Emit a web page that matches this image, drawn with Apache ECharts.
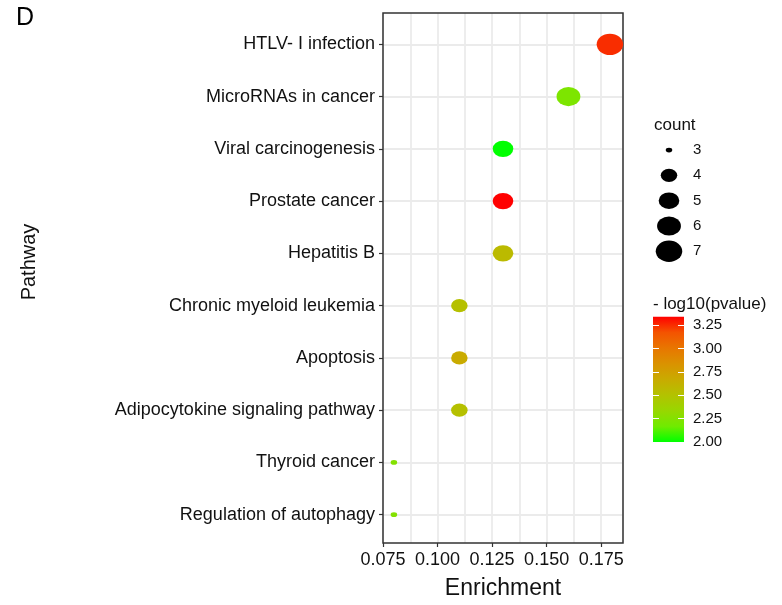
<!DOCTYPE html>
<html>
<head>
<meta charset="utf-8">
<script src="https://cdn.jsdelivr.net/npm/echarts@6/dist/echarts.min.js"></script>
<style>
  html, body { margin: 0; padding: 0; background: #fff; }
  #chart { width: 782px; height: 605px; }
</style>
</head>
<body>
<div id="chart"></div>
<script>
// KEGG pathway enrichment (panel D)
const pathways = [
  'HTLV- I infection',
  'MicroRNAs in cancer',
  'Viral carcinogenesis',
  'Prostate cancer',
  'Hepatitis B',
  'Chronic myeloid leukemia',
  'Apoptosis',
  'Adipocytokine signaling pathway',
  'Thyroid cancer',
  'Regulation of autophagy'
];
const enrichment = [0.179, 0.160, 0.130, 0.130, 0.130, 0.110, 0.110, 0.110, 0.080, 0.080];
const geneCount  = [7, 6, 5, 5, 5, 4, 4, 4, 3, 3];
const negLog10P  = [3.25, 2.22, 2.00, 3.34, 2.56, 2.52, 2.67, 2.52, 2.25, 2.25];

const xTickValues = [0.075, 0.100, 0.125, 0.150, 0.175];
const countBreaks = [3, 4, 5, 6, 7];
const pBreaks     = [2.00, 2.25, 2.50, 2.75, 3.00, 3.25];

// Scale limits
const X_MIN = 0.075, X_MAX = 0.185;
const P_MIN = 2.00, P_MAX = 3.34;
const COUNT_MIN = 3, COUNT_MAX = 7;

// green -> red gradient, evenly spaced stops (perceptual blend)
const palette = ['#00FF00', '#70EB00', '#98D700', '#B3C200', '#C9AB00',
                 '#DA9200', '#E87600', '#F45300', '#FF0000'];

// area-proportional point size, slightly wider than tall
function sizeFor(c) {
  const s = 1 + 5 * Math.sqrt((c - COUNT_MIN) / (COUNT_MAX - COUNT_MIN));
  return [4 * s + 2.5, 3.3 * s + 1.5];
}

const points = pathways.map((p, i) => [enrichment[i], p, geneCount[i], negLog10P[i]]);
const legendPoints = countBreaks.map(c => [0, String(c), c]);

const FONT = '"Liberation Sans", Arial, Helvetica, sans-serif';
const TXT = '#111111';
const GRIDC = '#EBEBEB';
const FRAME = '#333333';

// panel geometry
const PANEL = { left: 383, top: 13, width: 240, height: 533 };
const nCat = pathways.length;
const band = PANEL.height / (nCat - 1 + 1.2);

const whiteTick = { show: true, inside: true, length: 6, customValues: pBreaks,
                    lineStyle: { color: '#ffffff', width: 1 } };

const chart = echarts.init(document.getElementById('chart'), null, { renderer: 'canvas' });

chart.setOption({
  backgroundColor: '#ffffff',
  animation: false,
  textStyle: { fontFamily: FONT },
  grid: [
    // 0: panel frame + vertical grid lines + x axis
    { left: PANEL.left, top: PANEL.top, width: PANEL.width, height: PANEL.height,
      show: true, z: 1, backgroundColor: 'transparent', borderColor: FRAME, borderWidth: 1.5 },
    // 1: data area, first/last category centres
    { left: PANEL.left, top: PANEL.top + 0.6 * band, width: PANEL.width, height: (nCat - 1) * band },
    // 2: colour bar
    { left: 653, top: 316.7, width: 31, height: 125.3, show: true, borderWidth: 0, z: 0,
      backgroundColor: {
        type: 'linear', x: 0, y: 1, x2: 0, y2: 0,
        colorStops: palette.map((c, i) => ({ offset: i / (palette.length - 1), color: c }))
      } },
    // 3: size legend
    { left: 659, top: 137.4, width: 20, height: 126.5 }
  ],
  xAxis: [
    { gridIndex: 0, type: 'value', position: 'top', min: X_MIN, max: X_MAX, interval: 0.0125,
      axisLine: { show: false }, axisTick: { show: false }, axisLabel: { show: false },
      splitLine: { show: true, lineStyle: { color: GRIDC, width: 1.8 } } },
    { gridIndex: 0, type: 'value', position: 'bottom', min: X_MIN, max: X_MAX, z: 3,
      axisLine: { show: false },
      axisTick: { show: true, length: 4, customValues: xTickValues, lineStyle: { color: FRAME, width: 1.2 } },
      axisLabel: { show: true, customValues: xTickValues, margin: 8, fontSize: 18, color: TXT,
                   fontFamily: FONT, formatter: v => v.toFixed(3) },
      splitLine: { show: false },
      name: 'Enrichment', nameLocation: 'middle', nameGap: 34,
      nameTextStyle: { fontSize: 23, color: TXT, fontFamily: FONT } },
    { gridIndex: 1, type: 'value', min: X_MIN, max: X_MAX, show: false },
    { gridIndex: 2, type: 'value', min: 0, max: 1, show: false },
    { gridIndex: 3, type: 'value', min: -1, max: 1, show: false }
  ],
  yAxis: [
    { gridIndex: 0, type: 'value', min: 0, max: 1, show: false },
    { gridIndex: 1, type: 'category', data: pathways, inverse: true, boundaryGap: false,
      axisLine: { show: false },
      axisTick: { show: true, length: 4, lineStyle: { color: FRAME, width: 1.2 } },
      axisLabel: { margin: 8, fontSize: 18, color: TXT, fontFamily: FONT },
      splitLine: { show: true, lineStyle: { color: GRIDC, width: 1.8 } } },
    // colour bar: white break marks on the left edge
    { gridIndex: 2, type: 'value', position: 'left', min: P_MIN, max: P_MAX, z: 2,
      axisLine: { show: false }, splitLine: { show: false }, axisLabel: { show: false },
      axisTick: whiteTick },
    // colour bar: white break marks on the right edge + labels
    { gridIndex: 2, type: 'value', position: 'right', min: P_MIN, max: P_MAX, z: 2,
      axisLine: { show: false }, splitLine: { show: false },
      axisTick: whiteTick,
      axisLabel: { customValues: pBreaks, margin: 9, fontSize: 15, color: TXT, fontFamily: FONT,
                   formatter: v => v.toFixed(2) } },
    { gridIndex: 3, type: 'category', data: countBreaks.map(String), inverse: true, position: 'right',
      axisLine: { show: false }, axisTick: { show: false }, splitLine: { show: false },
      axisLabel: { margin: 14, fontSize: 15, color: TXT, fontFamily: FONT } }
  ],
  visualMap: {
    type: 'continuous', show: false, seriesIndex: 0, dimension: 3,
    min: P_MIN, max: P_MAX, inRange: { color: palette, opacity: 1 }
  },
  series: [
    { type: 'scatter', xAxisIndex: 2, yAxisIndex: 1, clip: false, z: 3,
      symbol: 'circle', symbolSize: v => sizeFor(v[2]),
      itemStyle: { opacity: 1 }, data: points },
    { type: 'scatter', xAxisIndex: 4, yAxisIndex: 4, clip: false,
      symbol: 'circle', symbolSize: v => sizeFor(v[2]),
      itemStyle: { color: '#000000', opacity: 1 }, data: legendPoints }
  ],
  graphic: [
    { type: 'text', x: 16, y: 18, silent: true,
      style: { text: 'D', font: '25px ' + FONT, fill: '#000', align: 'left', verticalAlign: 'middle' } },
    { type: 'text', x: 29, y: 262, rotation: Math.PI / 2, silent: true,
      style: { text: 'Pathway', font: '20px ' + FONT, fill: TXT, align: 'center', verticalAlign: 'middle' } },
    { type: 'text', x: 654, y: 125, silent: true,
      style: { text: 'count', font: '17px ' + FONT, fill: TXT, align: 'left', verticalAlign: 'middle' } },
    { type: 'text', x: 653, y: 304, silent: true,
      style: { text: '- log10(pvalue)', font: '17px ' + FONT, fill: TXT, align: 'left', verticalAlign: 'middle' } }
  ]
});
</script>
</body>
</html>
